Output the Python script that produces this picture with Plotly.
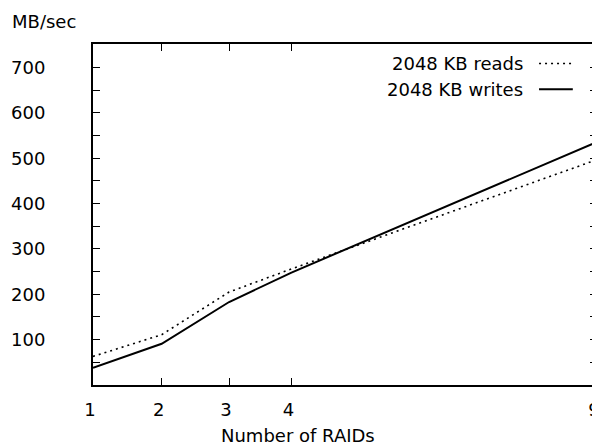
import plotly.graph_objects as go

# Data
raid_labels = ["1", "2", "3", "4", "9"]
raid_pos = [1, 2.09, 3.16, 4.15, 9]          # horizontal position of each tick/point on the axis
reads_2048 = [63, 111, 205, 256, 497]        # MB/sec
writes_2048 = [38, 91, 183, 248, 536]        # MB/sec
y_tick_vals = [100, 200, 300, 400, 500, 600, 700]
y_tick_text = ["100", "200", "300", "400", "500", "600", "700"]

FONT = "DejaVu Sans"
FS = 18

fig = go.Figure()
fig.add_trace(go.Scatter(x=raid_pos, y=reads_2048, mode="lines", name="2048 KB reads",
                         line=dict(color="black", width=1.6, dash="2px,4px"), showlegend=False))
fig.add_trace(go.Scatter(x=raid_pos, y=writes_2048, mode="lines", name="2048 KB writes",
                         line=dict(color="black", width=2), showlegend=False))

# page body adds an 8px margin, so the figure is 592x438 to fill the 600x446 window
fig.update_layout(
    width=592, height=438,
    margin=dict(l=85, r=3, t=36, b=61),
    paper_bgcolor="white", plot_bgcolor="white",
    font=dict(family=FONT, size=FS, color="black"),
)
fig.update_xaxes(
    range=[1, 9], tickvals=raid_pos, ticktext=raid_labels, automargin=False,
    showgrid=False, zeroline=False,
    showline=True, linecolor="black", linewidth=2, mirror="ticks",
    ticks="inside", ticklen=7, tickwidth=1, tickcolor="black",
    ticklabelstandoff=7, ticklabelshift=-3, ticklabeloverflow="allow",
)
fig.update_yaxes(
    range=[0, 752], tickvals=y_tick_vals, ticktext=y_tick_text, automargin=False,
    showgrid=False, zeroline=False,
    showline=True, linecolor="black", linewidth=2, mirror="ticks",
    ticks="inside", ticklen=7, tickwidth=1, tickcolor="black",
    minor=dict(ticks="inside", ticklen=7, tickwidth=1, tickcolor="black", dtick=50, tick0=0),
    ticklabelstandoff=42,
)

# Axis titles (gnuplot places them as free labels)
fig.add_annotation(text="Number of RAIDs", xref="paper", yref="paper", x=0.407, y=-0.147,
                   xanchor="center", yanchor="middle", showarrow=False, font=dict(size=FS))
fig.add_annotation(text="MB/sec", xref="paper", yref="paper", x=-0.165, y=1.065,
                   xanchor="left", yanchor="middle", showarrow=False, font=dict(size=FS))

# Gnuplot-style key: text right-justified, sample to the right
key_rows = [("2048 KB reads", 0.943, dict(color="black", width=1.6, dash="2px,4px")),
            ("2048 KB writes", 0.867, dict(color="black", width=2))]
for txt, yy, ln in key_rows:
    fig.add_annotation(text=txt, xref="paper", yref="paper", x=0.857, y=yy,
                       xanchor="right", yanchor="middle", showarrow=False, font=dict(size=FS))
    fig.add_shape(type="line", xref="paper", yref="paper", x0=0.885, x1=0.952, y0=yy, y1=yy, line=ln)

fig.write_html("out.html")
